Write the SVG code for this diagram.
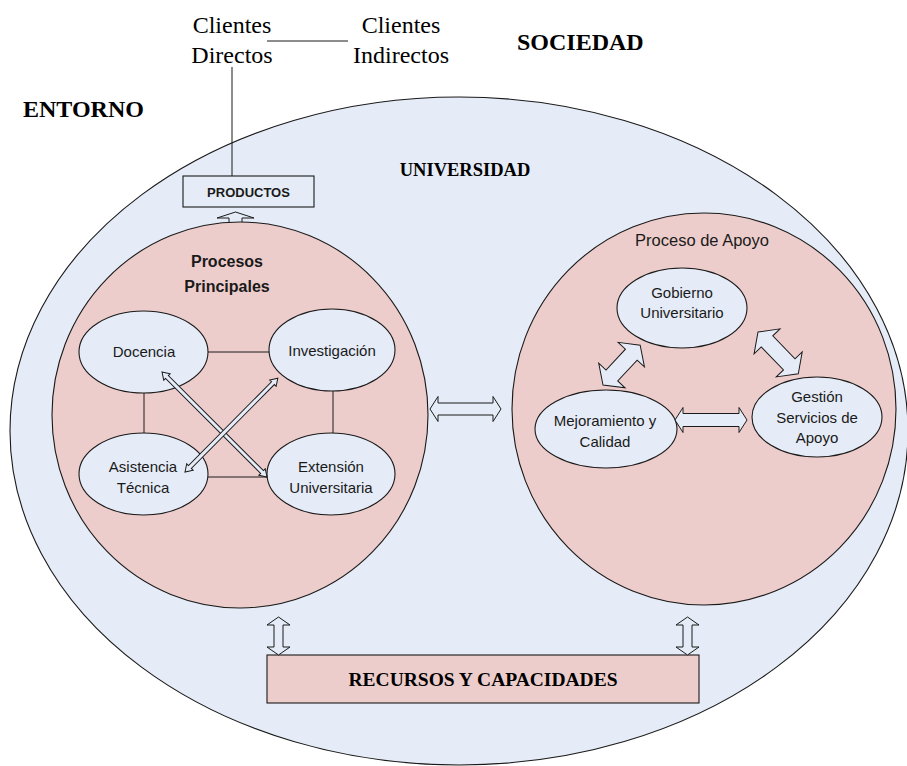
<svg xmlns="http://www.w3.org/2000/svg" width="907" height="766" viewBox="0 0 907 766">
  <style>
    .blue { fill: #E5ECF7; stroke: #1a1a1a; stroke-width: 1.1; }
    .pink { fill: #EDCDCB; stroke: #1a1a1a; stroke-width: 1.1; }
    .line { fill: none; stroke: #1a1a1a; stroke-width: 1; }
    .arrow { fill: #E5ECF7; stroke: #1a1a1a; stroke-width: 1; stroke-linejoin: miter; }
    .serif { font-family: "Liberation Serif", "Times New Roman", serif; fill: #000; }
    .sans { font-family: "Liberation Sans", Arial, sans-serif; fill: #1a1a1a; }
    .lbl { font-size: 15px; text-anchor: middle; }
    .hdr { font-weight: bold; font-size: 24px; }
  </style>

  <!-- outer world labels -->
  <g id="sociedad"><text class="serif hdr" x="517" y="50">SOCIEDAD</text></g>
  <g id="entorno"><text class="serif hdr" x="23" y="117">ENTORNO</text></g>

  <!-- university -->
  <g id="universidad">
    <ellipse class="blue" cx="459" cy="431" rx="449" ry="334"/>
    <text class="serif" x="465" y="176" font-size="18.5" font-weight="bold" text-anchor="middle">UNIVERSIDAD</text>
  </g>

  <!-- clients -->
  <g id="clientes-directos">
    <text class="serif" x="232" y="33" font-size="24" text-anchor="middle">Clientes</text>
    <text class="serif" x="232" y="63" font-size="24" text-anchor="middle">Directos</text>
  </g>
  <g id="clientes-indirectos">
    <text class="serif" x="401" y="33" font-size="24" text-anchor="middle">Clientes</text>
    <text class="serif" x="401" y="63" font-size="24" text-anchor="middle">Indirectos</text>
  </g>

  <!-- products box -->
  <g id="productos">
    <rect class="blue" x="183" y="176" width="131" height="31"/>
    <text class="sans" x="248.5" y="197" font-size="13" font-weight="bold" text-anchor="middle">PRODUCTOS</text>
  </g>

  <!-- output arrow to products (drawn under the circle) -->
  <polygon class="arrow" points="235.5,212 254,218 242,218 242,228 229,228 229,218 217,218"/>

  <!-- main processes -->
  <g id="procesos-principales">
    <ellipse class="pink" cx="240" cy="415" rx="188" ry="193"/>
    <text class="sans" x="227" y="267" font-size="16" font-weight="bold" text-anchor="middle" fill="#000">Procesos</text>
    <text class="sans" x="227" y="292" font-size="16" font-weight="bold" text-anchor="middle" fill="#000">Principales</text>
  </g>

  <!-- support processes -->
  <g id="proceso-apoyo">
    <ellipse class="pink" cx="704" cy="409" rx="192" ry="196"/>
    <text class="sans" x="702" y="246" font-size="16.5" text-anchor="middle">Proceso de Apoyo</text>
  </g>

  <!-- resources -->
  <g id="recursos">
    <rect class="pink" x="267" y="655" width="432" height="48" stroke-width="1.4"/>
    <text class="serif" x="483" y="686" font-size="19.5" font-weight="bold" text-anchor="middle">RECURSOS Y CAPACIDADES</text>
  </g>

  <!-- connectors -->
  <g id="connectors">
    <line class="line" x1="267" y1="41" x2="348" y2="41"/>
    <line class="line" x1="232" y1="67" x2="232" y2="176"/>
    <line class="line" x1="208" y1="352" x2="269" y2="352"/>
    <line class="line" x1="144" y1="393" x2="144" y2="433"/>
    <line class="line" x1="333" y1="391" x2="333" y2="433"/>
    <line class="line" x1="208" y1="477" x2="267" y2="477"/>
  </g>

  <!-- main process activities -->
  <g id="docencia">
    <ellipse class="blue" cx="143.5" cy="352" rx="64.5" ry="41"/>
    <text class="sans lbl" x="144" y="357">Docencia</text>
  </g>
  <g id="investigacion">
    <ellipse class="blue" cx="332" cy="350" rx="63" ry="41"/>
    <text class="sans lbl" x="332" y="356">Investigación</text>
  </g>
  <g id="asistencia">
    <ellipse class="blue" cx="143.5" cy="474" rx="64.5" ry="41"/>
    <text class="sans lbl" x="143" y="472">Asistencia</text>
    <text class="sans lbl" x="143" y="493">Técnica</text>
  </g>
  <g id="extension">
    <ellipse class="blue" cx="331" cy="474" rx="64" ry="41"/>
    <text class="sans lbl" x="331" y="472">Extensión</text>
    <text class="sans lbl" x="331" y="493">Universitaria</text>
  </g>

  <!-- support activities -->
  <g id="gobierno">
    <ellipse class="blue" cx="682" cy="308" rx="65" ry="40"/>
    <text class="sans lbl" x="682" y="298">Gobierno</text>
    <text class="sans lbl" x="682" y="318">Universitario</text>
  </g>
  <g id="mejoramiento">
    <ellipse class="blue" cx="606" cy="429" rx="71" ry="39"/>
    <text class="sans lbl" x="605" y="426">Mejoramiento y</text>
    <text class="sans lbl" x="605" y="447">Calidad</text>
  </g>
  <g id="gestion">
    <ellipse class="blue" cx="817" cy="417" rx="65" ry="40"/>
    <text class="sans lbl" x="817" y="402">Gestión</text>
    <text class="sans lbl" x="817" y="423">Servicios de</text>
    <text class="sans lbl" x="817" y="443">Apoyo</text>
  </g>

  <!-- two-way block arrows -->
  <g id="flows">
    <polygon class="arrow" transform="translate(162,372) rotate(45)" points="0,0 7,-4.5 7,-2 141.5,-2 141.5,-4.5 148.5,0 141.5,4.5 141.5,2 7,2 7,4.5"/>
    <polygon class="arrow" transform="translate(185,472) rotate(-45.3)" points="0,0 7,-4.5 7,-2 125,-2 125,-4.5 132,0 125,4.5 125,2 7,2 7,4.5"/>
    <polygon class="arrow" transform="translate(430,409)" points="0,0 8,-12.5 8,-6 63,-6 63,-12.5 71,0 63,12.5 63,6 8,6 8,12.5"/>
    <polygon class="arrow" transform="translate(675,420)" points="0,0 8,-12.5 8,-6.5 64,-6.5 64,-12.5 72,0 64,12.5 64,6.5 8,6.5 8,12.5"/>
    <polygon class="arrow" transform="translate(603,385) rotate(-47)" points="0,0 13,-18 13,-8 41.5,-8 41.5,-18 54.5,0 41.5,18 41.5,8 13,8 13,18"/>
    <polygon class="arrow" transform="translate(758,332) rotate(46)" points="0,0 13,-18 13,-8 45,-8 45,-18 58,0 45,18 45,8 13,8 13,18"/>
    <polygon class="arrow" transform="translate(278.5,617) rotate(90)" points="0,0 8,-11.5 8,-4.5 30,-4.5 30,-11.5 38,0 30,11.5 30,4.5 8,4.5 8,11.5"/>
    <polygon class="arrow" transform="translate(687.5,617) rotate(90)" points="0,0 8,-11.5 8,-4.5 30,-4.5 30,-11.5 38,0 30,11.5 30,4.5 8,4.5 8,11.5"/>
  </g>
</svg>
